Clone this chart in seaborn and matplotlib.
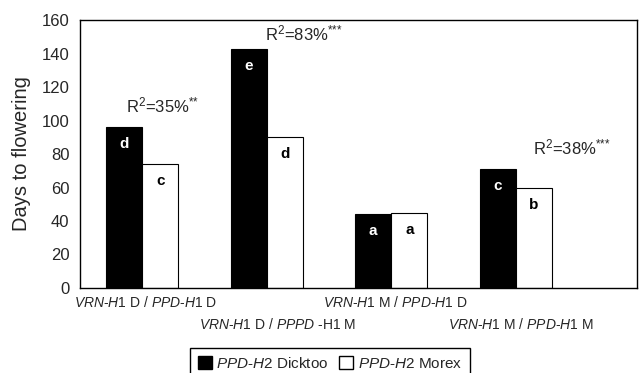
import numpy as np
import pandas as pd
import seaborn as sns
import matplotlib.pyplot as plt
from matplotlib.patches import Patch

# data
genotypes = ['VRN-H1 D / PPD-H1 D', 'VRN-H1 D / PPPD-H1 M',
             'VRN-H1 M / PPD-H1 D', 'VRN-H1 M / PPD-H1 M']
tick_texts = [r'$\mathit{VRN}$-$\mathit{H1}$ D / $\mathit{PPD}$-$\mathit{H1}$ D',
              r'$\mathit{VRN}$-$\mathit{H1}$ D / $\mathit{PPPD}$ -H1 M',
              r'$\mathit{VRN}$-$\mathit{H1}$ M / $\mathit{PPD}$-$\mathit{H1}$ D',
              r'$\mathit{VRN}$-$\mathit{H1}$ M / $\mathit{PPD}$-$\mathit{H1}$ M']
dicktoo = [96, 143, 44, 71]
morex = [74, 90, 45, 60]
letters_dicktoo = ['d', 'e', 'a', 'c']
letters_morex = ['c', 'd', 'a', 'b']
r2_texts = [r'R$^2$=35%$^{{*}{*}}$', r'R$^2$=83%$^{{*}{*}{*}}$', None, r'R$^2$=38%$^{{*}{*}{*}}$']
r2_xy = [(0.16, 109), (1.3, 152), None, (3.45, 84)]

sns.set_style('white')
plt.rcParams['font.family'] = ['Liberation Sans', 'DejaVu Sans']
plt.rcParams['mathtext.fontset'] = 'custom'
plt.rcParams['mathtext.rm'] = 'Liberation Sans'
plt.rcParams['mathtext.it'] = 'Liberation Sans:italic'

df = pd.DataFrame({
    'genotype': genotypes * 2,
    'days': dicktoo + morex,
    'allele': ['Dicktoo'] * 4 + ['Morex'] * 4,
})

fig = plt.figure(figsize=(6.42, 3.73), dpi=100)
ax = fig.add_axes([0.1246, 0.228, 0.867, 0.718])
sns.barplot(data=df, x='genotype', y='days', hue='allele',
            palette=['black', 'white'], edgecolor='black', linewidth=0.8,
            width=0.58, gap=0, legend=False, ax=ax)

ax.set_xlim(-0.5, 3.97)
ax.set_ylim(0, 160)
ax.set_yticks(np.arange(0, 161, 20))
ax.set_xticks([-0.5, 0.5, 1.5, 2.5])
ax.set_xticklabels([])
ax.tick_params(axis='both', direction='out', length=4, width=0.8, color='black')
ax.tick_params(axis='y', labelsize=12)
ax.set_xlabel('')
ax.set_ylabel('Days to flowering', fontsize=14.5, labelpad=8)
for s in ax.spines.values():
    s.set_color('black')
    s.set_linewidth(1.0)

# category labels, staggered
for i, t in enumerate(tick_texts):
    ax.annotate(t, xy=(i - 0.5, 0), xycoords='data', xytext=(-4, -5 if i % 2 == 0 else -21),
                textcoords='offset points', ha='left', va='top', fontsize=10,
                annotation_clip=False)

# letters inside bars
bw = 0.29
for i in range(4):
    ax.text(i - bw / 2, dicktoo[i] - 6, letters_dicktoo[i], color='white',
            ha='center', va='top', fontsize=11, fontweight='bold')
    ax.text(i + bw / 2, morex[i] - 6, letters_morex[i], color='black',
            ha='center', va='top', fontsize=11, fontweight='bold')

for t, xy in zip(r2_texts, r2_xy):
    if t:
        ax.text(xy[0], xy[1], t, ha='center', va='center', fontsize=12)

handles = [Patch(facecolor='black', edgecolor='black'),
           Patch(facecolor='white', edgecolor='black')]
labels = [r'$\mathit{PPD}$-$\mathit{H2}$ Dicktoo', r'$\mathit{PPD}$-$\mathit{H2}$ Morex']
leg = fig.legend(handles, labels, loc='upper center', bbox_to_anchor=(0.514, 0.066),
                 ncol=2, frameon=True, fancybox=False, edgecolor='black',
                 fontsize=11, handlelength=0.9, handleheight=0.9, handletextpad=0.3,
                 columnspacing=0.7, borderpad=0.5, borderaxespad=0, framealpha=1)
leg.get_frame().set_linewidth(1.0)

fig.savefig('out.png', dpi=100)
